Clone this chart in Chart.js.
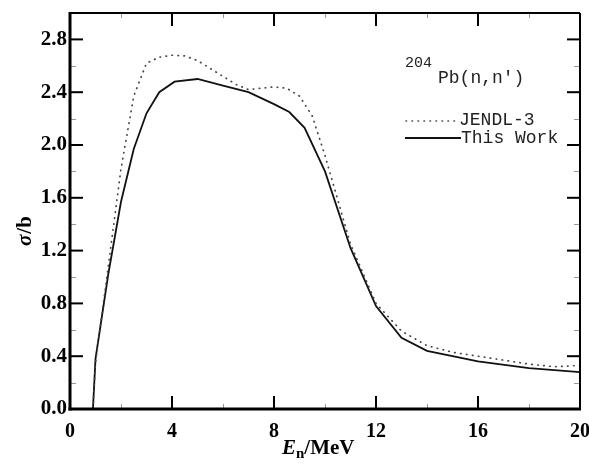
<!DOCTYPE html>
<html>
<head>
<meta charset="utf-8">
<script src="https://cdn.jsdelivr.net/npm/chart.js@4.4.1/dist/chart.umd.min.js"></script>
<style>
  html, body { margin: 0; padding: 0; background: #fff; }
</style>
</head>
<body>
<canvas id="chartContainer" width="589" height="469"></canvas>
<script>
// 204Pb(n,n') cross section (barn) vs neutron energy (MeV)
const jendlEnergy = [0.9, 1.0, 1.5, 2.0, 2.5, 3.0, 3.5, 4.0, 4.5, 5.0, 5.5, 6.0, 6.5, 7.0, 7.5, 8.0, 8.5, 9.0, 9.5, 10.0, 11.0, 12.0, 13.0, 14.0, 15.0, 16.0, 17.0, 18.0, 19.0, 20.0];
const jendlSigma  = [0.0, 0.35, 1.08, 1.82, 2.37, 2.62, 2.665, 2.68, 2.675, 2.64, 2.58, 2.52, 2.46, 2.42, 2.43, 2.44, 2.43, 2.37, 2.22, 1.92, 1.25, 0.80, 0.59, 0.48, 0.43, 0.40, 0.37, 0.34, 0.32, 0.33];

const workEnergy = [0.9, 1.0, 1.5, 2.0, 2.5, 3.0, 3.5, 4.1, 5.0, 6.0, 7.0, 8.0, 8.6, 9.2, 10.0, 11.0, 12.0, 13.0, 14.0, 16.0, 18.0, 20.0];
const workSigma  = [0.0, 0.38, 1.02, 1.57, 1.97, 2.24, 2.40, 2.48, 2.50, 2.45, 2.40, 2.31, 2.25, 2.13, 1.80, 1.22, 0.78, 0.54, 0.44, 0.36, 0.31, 0.28];

const xTicks = [0, 4, 8, 12, 16, 20];
const xMinor = [2, 6, 10, 14, 18];
const yTicks = [0.0, 0.4, 0.8, 1.2, 1.6, 2.0, 2.4, 2.8];
const yMinor = [0.2, 0.6, 1.0, 1.4, 1.8, 2.2, 2.6];

const serif = "'Liberation Serif', 'Times New Roman', serif";
const mono = "'Liberation Mono', 'Courier New', monospace";

const toPoints = (xs, ys) => xs.map((x, i) => ({ x: x, y: ys[i] }));

// frame with inward ticks, axis titles and the boxed-in key
const framePlugin = {
  id: 'frame',
  afterDraw(chart) {
    const ctx = chart.ctx;
    const a = chart.chartArea;
    const x = chart.scales.x, y = chart.scales.y;
    ctx.save();

    function seg(x1, y1, x2, y2) {
      ctx.beginPath(); ctx.moveTo(x1, y1); ctx.lineTo(x2, y2); ctx.stroke();
    }

    // minor ticks
    ctx.strokeStyle = '#999';
    ctx.lineWidth = 1;
    yMinor.forEach(v => {
      const py = Math.round(y.getPixelForValue(v)) + 0.5;
      seg(a.left, py, a.left + 6, py);
      seg(a.right - 6, py, a.right, py);
    });
    xMinor.forEach(v => {
      const px = Math.round(x.getPixelForValue(v)) + 0.5;
      seg(px, a.bottom, px, a.bottom - 5);
      seg(px, a.top, px, a.top + 5);
    });

    // major ticks
    ctx.strokeStyle = '#000';
    ctx.lineWidth = 2;
    yTicks.forEach(v => {
      if (v === 0) return;
      const py = y.getPixelForValue(v);
      seg(a.left, py, a.left + 13, py);
      seg(a.right - 13, py, a.right, py);
    });
    xTicks.forEach(v => {
      if (v === 0 || v === 20) return;
      const px = x.getPixelForValue(v);
      seg(px, a.bottom, px, a.bottom - 13);
      seg(px, a.top, px, a.top + 13);
    });

    // border: left and bottom heavier
    ctx.lineWidth = 2;
    seg(a.left, a.top, a.right, a.top);
    seg(a.right, a.top, a.right, a.bottom);
    ctx.lineWidth = 3;
    seg(a.left, a.top - 1, a.left, a.bottom + 1.5);
    seg(a.left - 1.5, a.bottom, a.right + 1, a.bottom);

    // x title: E_n/MeV
    ctx.fillStyle = '#000';
    ctx.textBaseline = 'alphabetic';
    ctx.textAlign = 'left';
    let tx = 282;
    ctx.font = 'italic bold 21px ' + serif;
    ctx.fillText('E', tx, 454);
    tx += ctx.measureText('E').width;
    ctx.font = 'bold 15px ' + serif;
    ctx.fillText('n', tx, 458);
    tx += ctx.measureText('n').width;
    ctx.font = 'bold 21px ' + serif;
    ctx.fillText('/MeV', tx, 454);

    // y title: sigma/b, reading upward
    ctx.save();
    ctx.translate(31, 246);
    ctx.rotate(-Math.PI / 2);
    ctx.font = 'italic bold 21px ' + serif;
    ctx.fillText('σ', 0, 0);
    const sw = ctx.measureText('σ').width;
    ctx.font = 'bold 21px ' + serif;
    ctx.fillText('/b', sw + 1, 0);
    ctx.restore();

    // reaction label and key
    ctx.fillStyle = '#222';
    ctx.font = '15px ' + mono;
    ctx.fillText('204', 405, 67);
    ctx.font = '18px ' + mono;
    ctx.fillText("Pb(n,n')", 438, 83);
    ctx.fillText('JENDL-3', 459, 125);
    ctx.fillText('This Work', 461, 143);

    ctx.strokeStyle = '#444';
    ctx.lineWidth = 1.6;
    ctx.lineCap = 'round';
    ctx.setLineDash([0.5, 5.5]);
    seg(406, 121, 455, 121);
    ctx.setLineDash([]);
    ctx.lineCap = 'butt';
    ctx.strokeStyle = '#111';
    ctx.lineWidth = 1.8;
    seg(405, 138, 461, 138);

    ctx.restore();
  }
};

const ctx = document.getElementById('chartContainer');

new Chart(ctx, {
  type: 'line',
  data: {
    datasets: [
      {
        label: 'JENDL-3',
        data: toPoints(jendlEnergy, jendlSigma),
        borderColor: '#444',
        borderWidth: 1.7,
        borderDash: [0.5, 5.5],
        borderCapStyle: 'round',
        pointRadius: 0,
        tension: 0,
        fill: false
      },
      {
        label: 'This Work',
        data: toPoints(workEnergy, workSigma),
        borderColor: '#111',
        borderWidth: 1.8,
        pointRadius: 0,
        tension: 0,
        fill: false
      }
    ]
  },
  options: {
    responsive: false,
    animation: false,
    devicePixelRatio: 1,
    layout: { padding: { top: 13, right: 9, left: 0, bottom: 0 } },
    plugins: {
      legend: { display: false },
      tooltip: { enabled: false }
    },
    scales: {
      x: {
        type: 'linear',
        min: 0,
        max: 20,
        afterBuildTicks: s => { s.ticks = xTicks.map(v => ({ value: v })); },
        afterFit: s => { s.height = 60; s.paddingLeft = 0; s.paddingRight = 0; },
        grid: { display: false, drawTicks: false },
        border: { display: false },
        ticks: {
          padding: 11,
          color: '#000',
          maxRotation: 0,
          font: { family: serif, weight: 'bold', size: 20 },
          callback: v => String(v)
        }
      },
      y: {
        type: 'linear',
        min: 0,
        max: 3.0,
        afterBuildTicks: s => { s.ticks = yTicks.map(v => ({ value: v })); },
        afterFit: s => { s.width = 70; s.paddingTop = 0; s.paddingBottom = 0; },
        grid: { display: false, drawTicks: false },
        border: { display: false },
        ticks: {
          padding: 3,
          color: '#000',
          font: { family: serif, weight: 'bold', size: 21 },
          callback: v => v.toFixed(1)
        }
      }
    }
  },
  plugins: [framePlugin]
});
</script>
</body>
</html>
